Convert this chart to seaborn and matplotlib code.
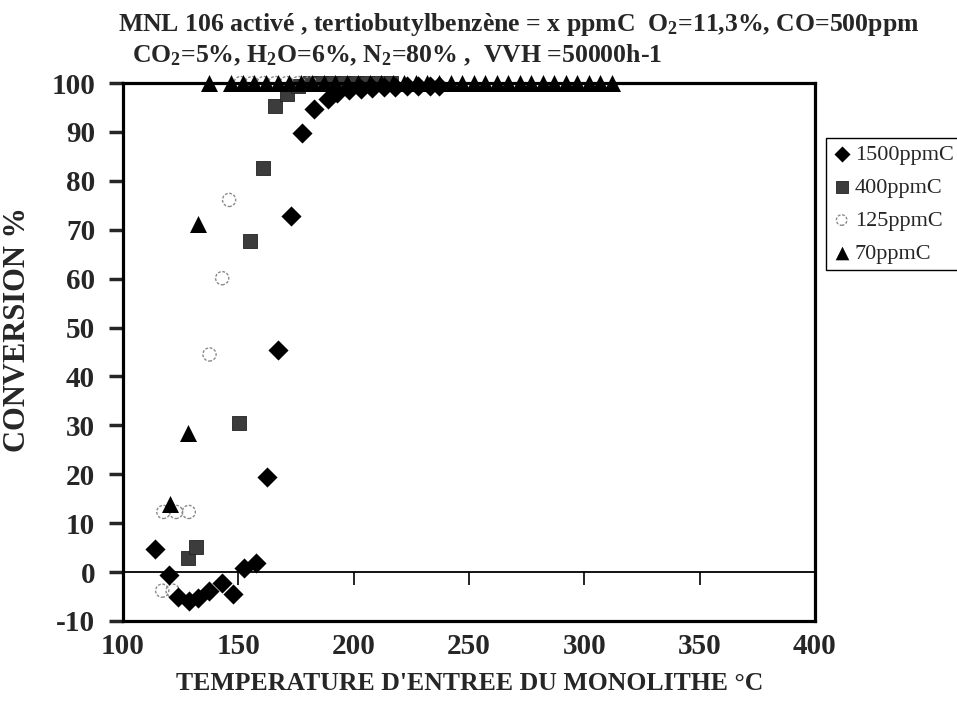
import pandas as pd
import seaborn as sns
import matplotlib.pyplot as plt

# 1500 ppmC (diamonds)
t_1500 = [114, 120, 124, 128.5, 132.5, 137.5, 143, 147.5, 152.5, 157.5, 162.5, 167, 173,
          177.5, 183, 189, 193, 198, 203, 208, 213, 218, 223, 228, 233, 237]
c_1500 = [4.8, -0.5, -5.0, -5.9, -5.4, -3.8, -2.2, -4.5, 0.8, 1.8, 19.5, 45.4, 72.9,
          89.7, 94.6, 96.7, 97.9, 98.5, 98.8, 99.0, 99.1, 99.2, 99.3, 99.3, 99.4, 99.4]

# 400 ppmC (squares)
t_400 = [128, 131.5, 150.5, 155, 160.5, 166, 171, 176, 181, 186, 191, 196, 201, 206, 211, 216]
c_400 = [2.8, 5.2, 30.4, 67.8, 82.7, 95.3, 97.7, 99.5, 100, 100, 100, 100, 100, 100, 100, 100]

# 125 ppmC (open circles)
t_125 = [117, 121.5, 117.5, 123, 128.5, 137.5, 143, 146, 151, 156, 161, 166, 171, 176, 181]
c_125 = [-3.8, -3.8, 12.3, 12.3, 12.3, 44.5, 60.1, 76.1, 100, 100, 100, 100, 100, 100, 100]

# 70 ppmC (triangles)
t_70 = [120.5, 128, 132.5, 137.5, 147, 152, 157, 162, 167, 172, 177, 182, 187, 192, 197,
        202, 207, 212, 217, 222, 227, 232, 237, 242, 247, 252, 257, 262, 267, 272, 277,
        282, 287, 292, 297, 302, 307, 312]
c_70 = [13.9, 28.5, 71.2, 100, 100, 100, 100, 100, 100, 100, 100, 100, 100, 100, 100,
        100, 100, 100, 100, 100, 100, 100, 100, 100, 100, 100, 100, 100, 100, 100, 100,
        100, 100, 100, 100, 100, 100, 100]

x_ticks = [100, 150, 200, 250, 300, 350, 400]
zero_ticks = [150, 200, 250, 300, 350]
y_ticks = [-10, 0, 10, 20, 30, 40, 50, 60, 70, 80, 90, 100]

sns.set_style('white')
plt.rcParams['font.family'] = ['Liberation Serif', 'DejaVu Serif']
plt.rcParams['font.weight'] = 'bold'
plt.rcParams['axes.unicode_minus'] = False
plt.rcParams['mathtext.fontset'] = 'custom'
plt.rcParams['mathtext.rm'] = 'Liberation Serif:bold'
plt.rcParams['mathtext.bf'] = 'Liberation Serif:bold'
plt.rcParams['mathtext.default'] = 'rm'

fig = plt.figure(figsize=(9.57, 7.16), dpi=100)
ax = fig.add_axes([0.1285, 0.1327, 0.7231, 0.7513])

df_400 = pd.DataFrame({'T': t_400, 'C': c_400})
df_125 = pd.DataFrame({'T': t_125, 'C': c_125})
df_1500 = pd.DataFrame({'T': t_1500, 'C': c_1500})
df_70 = pd.DataFrame({'T': t_70, 'C': c_70})

sns.scatterplot(data=df_1500, x='T', y='C', marker='D', s=105, color='black',
                edgecolor='black', linewidth=0, clip_on=False, label='1500ppmC', ax=ax, zorder=3)
sns.scatterplot(data=df_400, x='T', y='C', marker='s', s=110, color='#3c3c3c',
                edgecolor='#222222', linewidth=0.6, clip_on=False, label='400ppmC', ax=ax, zorder=2)
sns.scatterplot(data=df_125, x='T', y='C', marker='o', s=90, facecolor='none',
                edgecolor='#8a8a8a', linewidth=1.0, linestyle=(0, (2, 1.2)), clip_on=False,
                label='125ppmC', ax=ax, zorder=2)
sns.scatterplot(data=df_70, x='T', y='C', marker='^', s=150, color='black',
                edgecolor='black', linewidth=0, clip_on=False, label='70ppmC', ax=ax, zorder=4)

handles, labels = ax.get_legend_handles_labels()
if ax.get_legend() is not None:
    ax.get_legend().remove()

ax.set_xlim(100, 400)
ax.set_ylim(-10, 100)
ax.set_xlabel('')
ax.set_ylabel('')
ax.set_xticks(x_ticks)
ax.set_yticks(y_ticks)
ax.tick_params(axis='x', length=0, pad=9, labelsize=21)
ax.tick_params(axis='y', direction='out', length=10, width=2.5, pad=10, labelsize=21, left=True)
for side in ['left', 'right', 'top', 'bottom']:
    ax.spines[side].set_visible(True)
    ax.spines[side].set_color('black')
    ax.spines[side].set_linewidth(2.3)

# axis line at 0 with tick marks pointing down
zero_axis = ax.secondary_xaxis(10 / 110)
zero_axis.set_xticks(zero_ticks)
zero_axis.set_xticklabels([])
zero_axis.tick_params(direction='out', length=9, width=1.2, color='black')
zero_axis.spines['bottom'].set_linewidth(1.3)
zero_axis.spines['bottom'].set_color('black')

fig.text(118 / 957, 1 - 25 / 716,
         "MNL 106 activé , tertiobutylbenzène = x ppmC  O$_2$=11,3%, CO=500ppm",
         ha='left', va='center', fontsize=18.5, fontweight='bold')
fig.text(132 / 957, 1 - 55 / 716,
         "CO$_2$=5%, H$_2$O=6%, N$_2$=80% ,  VVH =50000h-1",
         ha='left', va='center', fontsize=18.5, fontweight='bold')
fig.text(470 / 957, 1 - 683 / 716, "TEMPERATURE D'ENTREE DU MONOLITHE °C",
         ha='center', va='center', fontsize=18.5, fontweight='bold')
fig.text(18 / 957, 1 - 330 / 716, "CONVERSION %", rotation=90,
         ha='center', va='center', fontsize=22, fontweight='bold')

leg = fig.legend(handles, labels, loc='upper left', bbox_to_anchor=(815 / 957, 1 - 127 / 716),
                 frameon=True, fancybox=False, edgecolor='black', framealpha=1,
                 prop={'size': 16, 'weight': 'normal'}, handletextpad=0.2,
                 labelspacing=0.55, borderpad=0.3, handlelength=0.8, markerscale=0.8)
leg.get_frame().set_linewidth(1.0)

fig.savefig('out.png', dpi=100)
